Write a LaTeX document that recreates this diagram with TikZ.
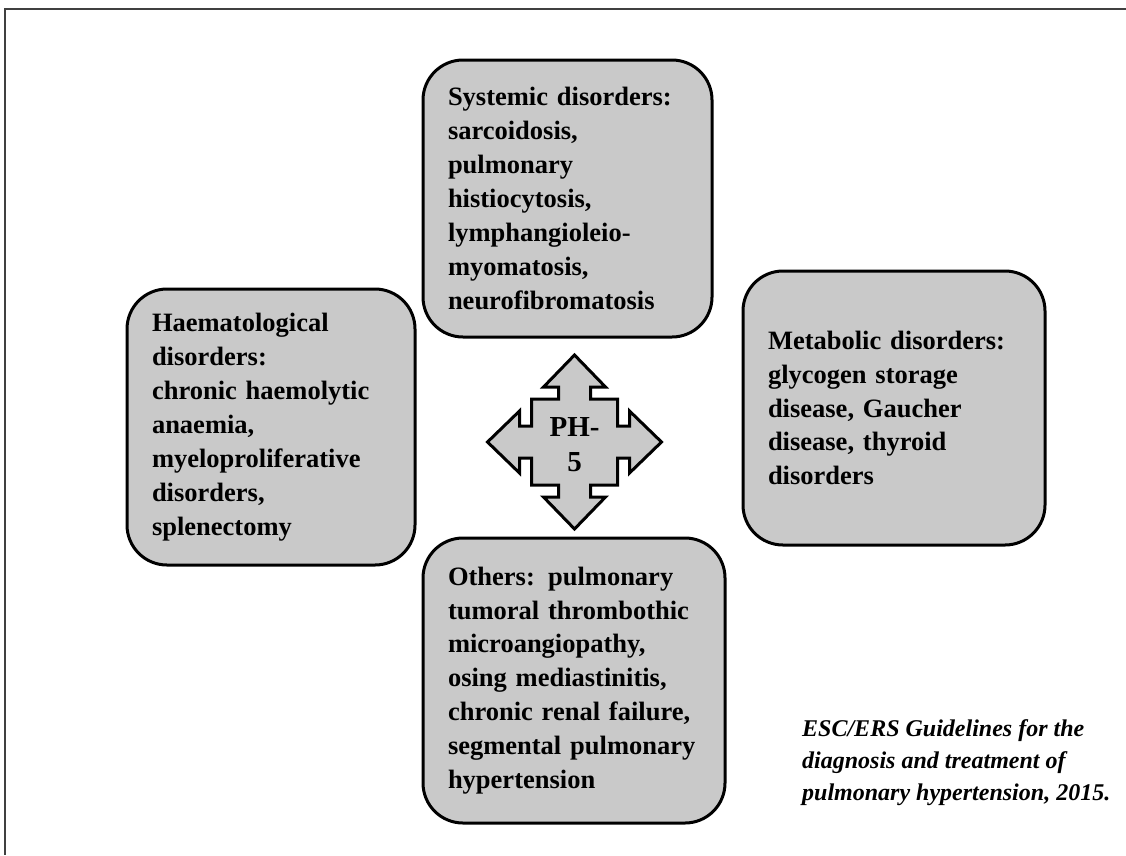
\documentclass[tikz,border=0pt]{standalone}
\usepackage{fontspec}
\setmainfont{Liberation Serif}
\newfontfamily\citefont{Liberation Serif}
\definecolor{boxgray}{RGB}{201,201,201}
\tikzset{
  pbox/.style={draw=black, line width=3pt, fill=boxgray, rounded corners=40pt,
    inner xsep=25pt, inner ysep=0pt, align=left, anchor=center,
    font=\bfseries\fontsize{26.5}{33.9}\selectfont},
  quadarrow/.style={draw=black, line width=3pt, fill=boxgray, line join=miter},
  frameline/.style={draw=black!75, line width=2pt},
}
\begin{document}
\begin{tikzpicture}[x=1pt,y=-1pt]
\useasboundingbox (0,0) rectangle (1126,855);
\fill[white] (0,0) rectangle (1126,855);
\draw[frameline] (1126,9) -- (5,9) -- (5,855);

% boxes
\node[pbox, minimum width=289pt, minimum height=277pt, text width=239pt] (sys) at (567.5,198.5)
  {Systemic disorders:\\ sarcoidosis,\\ pulmonary\\ histiocytosis,\\ lymphangioleio-\\ myomatosis,\\ neurofibromatosis};
\node[pbox, minimum width=288pt, minimum height=276pt, text width=238pt] (haem) at (271,427)
  {Haematological\\ disorders:\\ chronic haemolytic\\ anaemia,\\ myeloproliferative\\ disorders,\\ splenectomy};
\node[pbox, minimum width=302pt, minimum height=274pt, text width=252pt] (meta) at (894,408)
  {Metabolic disorders:\\ glycogen storage\\ disease, Gaucher\\ disease, thyroid\\ disorders};
\node[pbox, minimum width=302pt, minimum height=285pt, text width=252pt] (oth) at (574,680.5)
  {Others: pulmonary\\ tumoral thrombothic\\ microangiopathy,\\ osing mediastinitis,\\ chronic renal failure,\\ segmental pulmonary\\ hypertension};

% quad arrow
\begin{scope}[shift={(574.5,442)}]
\draw[quadarrow] (0,-87) -- (31,-55) -- (16,-55) -- (16,-43) -- (43,-43) -- (43,-16) -- (55,-16) -- (55,-31)
  -- (87,0) -- (55,31) -- (55,16) -- (43,16) -- (43,43) -- (16,43) -- (16,55) -- (31,55)
  -- (0,87) -- (-31,55) -- (-16,55) -- (-16,43) -- (-43,43) -- (-43,16) -- (-55,16) -- (-55,31)
  -- (-87,0) -- (-55,-31) -- (-55,-16) -- (-43,-16) -- (-43,-43) -- (-16,-43) -- (-16,-55) -- (-31,-55) -- cycle;
\end{scope}
\node[align=center, inner sep=0pt, font=\bfseries\fontsize{29}{35}\selectfont] (ph) at (574.5,445) {PH-\\5};

% citation
\node[anchor=north west, align=left, inner sep=0pt,
  font=\citefont\bfseries\itshape\fontsize{24}{32}\selectfont] (cite) at (802,719.5)
  {ESC/ERS Guidelines for the\\ diagnosis and treatment of\\ pulmonary hypertension, 2015.};
\end{tikzpicture}
\end{document}
